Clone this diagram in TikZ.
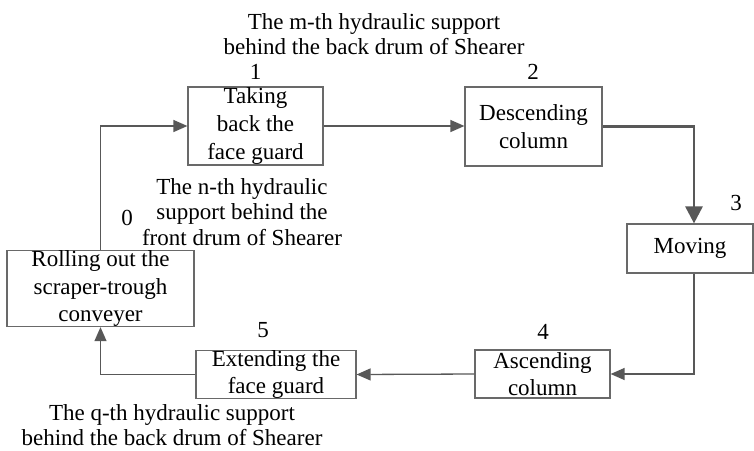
\documentclass[tikz,border=0pt]{standalone}
\usepackage{fontspec}
\setmainfont{Liberation Serif}
\usetikzlibrary{arrows.meta,positioning,calc}
\definecolor{EdgeGray}{RGB}{88,88,88}
\definecolor{BoxGray}{RGB}{105,105,105}
\tikzset{
  stepbox/.style={rectangle,draw=BoxGray,line width=.6pt,fill=white,
                  align=center,inner sep=0pt,
                  font=\fontsize{11.5}{13.8}\selectfont},
  tnum/.style={font=\fontsize{11.5}{13.8}\selectfont,inner sep=0pt},
  tnote/.style={align=center,inner sep=0pt,
                font=\fontsize{11.5}{12.8}\selectfont},
  tedge/.style={-{Triangle[length=7pt,width=6pt]},EdgeGray,line width=.65pt},
  tedgeb/.style={-{Triangle[length=8.5pt,width=8.5pt]},EdgeGray,line width=1.4pt},
}

\begin{document}
\begin{tikzpicture}[x=.5pt,y=-.5pt]
  \useasboundingbox (0,0) rectangle (754,450);

  % the six steps of the support cycle
  \node[stepbox,minimum width=67.5pt,minimum height=39pt]   (taking)  at (255.5,126)   {Taking\\back the\\face guard};
  \node[stepbox,minimum width=68.5pt,minimum height=39.5pt] (descend) at (533.5,126.5) {Descending\\column};
  \node[stepbox,minimum width=63pt,minimum height=24.5pt]   (moving)  at (690,248.5)   {Moving};
  \node[stepbox,minimum width=67.5pt,minimum height=24pt]   (ascend)  at (542.5,374)   {Ascending\\column};
  \node[stepbox,minimum width=80pt,minimum height=23.5pt]   (extend)  at (276,374.5)   {Extending the\\face guard};
  \node[stepbox,minimum width=93.5pt,minimum height=37.5pt] (rolling) at (100.5,288.5) {Rolling out the\\scraper-trough\\conveyer};

  % step numbers
  \node[tnum] (num0) at (127,218) {0};
  \node[tnum] (num1) at (255.5,72) {1};
  \node[tnum] (num2) at (533,72) {2};
  \node[tnum] (num3) at (736,203) {3};
  \node[tnum] (num4) at (543,332) {4};
  \node[tnum] (num5) at (263,330) {5};

  % which support is meant
  \node[tnote] (notem) at (374,34)  {The m-th hydraulic support\\behind the back drum of Shearer};
  \node[tnote] (noten) at (242,212) {The n-th hydraulic\\support behind the\\front drum of Shearer};
  \node[tnote] (noteq) at (172,425) {The q-th hydraulic support\\behind the back drum of Shearer};

  % flow
  \coordinate (mtop) at ([xshift=2pt]moving.north);
  \coordinate (mbot) at ([xshift=2pt]moving.south);
  \draw[tedge] (rolling.north) |- (taking.west);
  \draw[tedge] (taking.east) -- (taking.east -| descend.west);
  \draw[tedgeb] (descend.east) -| (mtop);
  \draw[tedge] (mbot) |- (ascend.east);
  \draw[tedge] (ascend.west) -- (extend.east);
  \draw[tedge] (extend.west) -| (rolling.south);
\end{tikzpicture}
\end{document}
